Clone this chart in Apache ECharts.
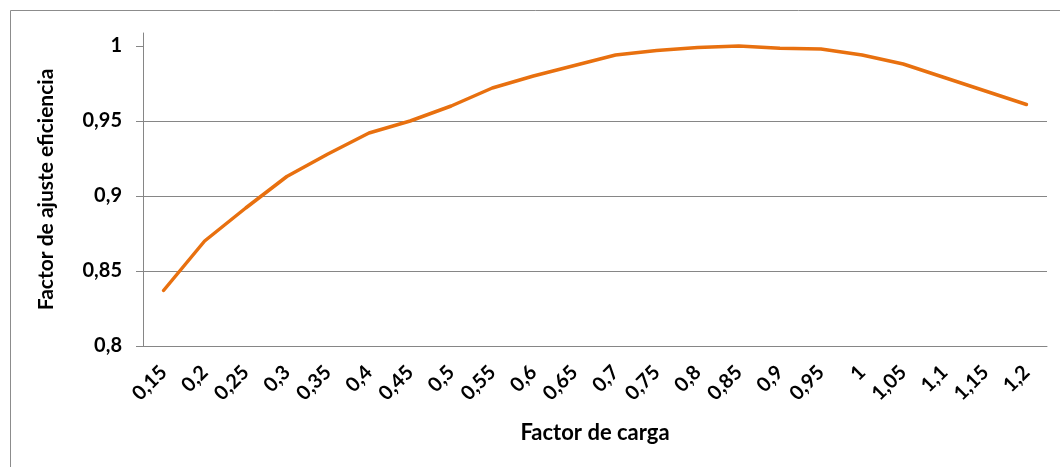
<!DOCTYPE html>
<html>
<head>
<meta charset="utf-8">
<script src="https://cdn.jsdelivr.net/npm/echarts@6/dist/echarts.min.js"></script>
<style>
  html, body { margin: 0; padding: 0; background: #fff; }
  #chart { width: 1060px; height: 467px; }
</style>
</head>
<body>
<div id="chart"></div>
<script>
// Load factor (x) vs. efficiency adjustment factor (y)
const loadFactors = ['0,15','0,2','0,25','0,3','0,35','0,4','0,45','0,5','0,55','0,6','0,65',
                     '0,7','0,75','0,8','0,85','0,9','0,95','1','1,05','1,1','1,15','1,2'];
const efficiencyAdj = [0.837, 0.870, 0.892, 0.913, 0.928, 0.942, 0.950, 0.960, 0.972, 0.980, 0.987,
                       0.994, 0.997, 0.999, 1.000, 0.9985, 0.998, 0.994, 0.988, 0.979, 0.970, 0.961];
const yTicks = [0.8, 0.85, 0.9, 0.95, 1];

const fmt = v => String(Math.round(v * 100) / 100).replace('.', ',');
const labelFont = 'Lato, "Open Sans", sans-serif';

const chart = echarts.init(document.getElementById('chart'), null, { renderer: 'canvas' });
chart.setOption({
  animation: false,
  backgroundColor: '#ffffff',
  graphic: [{
    type: 'rect',
    shape: { x: 10.5, y: 10.5, width: 1100, height: 500 },
    style: { fill: 'none', stroke: '#8c8c8c', lineWidth: 1 },
    silent: true
  }],
  grid: { left: 143, right: 13, top: 33, bottom: 121 },
  xAxis: {
    type: 'category',
    data: loadFactors,
    boundaryGap: true,
    name: 'Factor de carga',
    nameLocation: 'middle',
    nameGap: 76,
    nameTextStyle: { fontFamily: labelFont, fontWeight: 'bold', fontSize: 22, color: '#000' },
    axisLine: { lineStyle: { color: '#868686', width: 1 } },
    axisTick: { show: false },
    axisLabel: {
      rotate: 45,
      interval: 0,
      margin: 23,
      fontFamily: labelFont,
      fontWeight: 'bold',
      fontSize: 20,
      color: '#000'
    },
    splitLine: { show: false }
  },
  yAxis: {
    type: 'value',
    min: 0.8,
    max: 1.00867,
    name: 'Factor de ajuste eficiencia',
    nameLocation: 'middle',
    nameGap: 86,
    nameRotate: 90,
    nameTextStyle: { fontFamily: labelFont, fontWeight: 'bold', fontSize: 21, color: '#000' },
    axisLine: { show: true, lineStyle: { color: '#868686', width: 1 } },
    axisTick: { show: true, length: 7, inside: false, customValues: yTicks,
                lineStyle: { color: '#868686' } },
    axisLabel: {
      customValues: yTicks,
      formatter: fmt,
      margin: 21,
      fontFamily: labelFont,
      fontWeight: 'bold',
      fontSize: 20,
      color: '#000'
    },
    splitLine: { show: true, showMaxLine: false, lineStyle: { color: '#868686', width: 1 } }
  },
  series: [{
    type: 'line',
    data: efficiencyAdj,
    symbol: 'none',
    smooth: false,
    lineStyle: { color: '#E8700F', width: 3.5, cap: 'round', join: 'round' }
  }]
});
</script>
</body>
</html>
